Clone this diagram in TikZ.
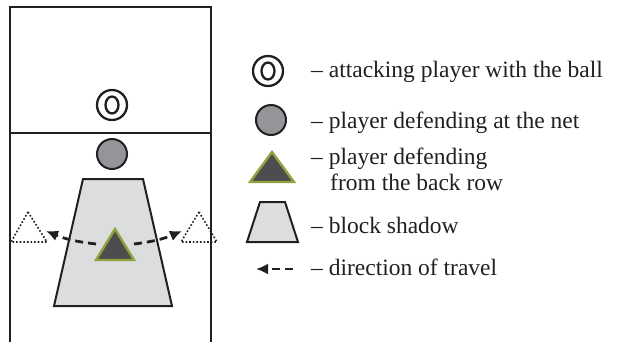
\documentclass[tikz,border=0pt]{standalone}
\usepackage{fontspec}
\setmainfont{Liberation Serif}
\usetikzlibrary{arrows.meta}
\definecolor{ink}{HTML}{231F20}
\definecolor{netgray}{HTML}{939598}
\definecolor{shadow}{HTML}{DCDDDF}
\definecolor{backgray}{HTML}{4D4D4F}
\definecolor{olive}{HTML}{8FA33F}
\tikzset{
  x=1pt, y=-1pt,
  courtline/.style={draw=ink, line width=1.6pt},
  ringout/.style={draw=ink, line width=2.3pt},
  netplayer/.style={draw=ink, fill=netgray, line width=2pt},
  blockshadow/.style={draw=ink, fill=shadow, line width=2pt, line join=miter},
  backplayer/.style={draw=olive, fill=backgray, line width=2.4pt, line join=miter},
  ghost/.style={draw=ink, dotted, line width=1.6pt},
  travel/.style={draw=ink, line width=2.8pt, dash pattern=on 8pt off 5pt, -{Latex[length=12pt,width=11pt]}},
  legtext/.style={anchor=base west, inner sep=0pt, text=ink, font=\fontsize{23.5}{26}\selectfont}
}
\begin{document}
\begin{tikzpicture}
\useasboundingbox (0,0) rectangle (619,341);
% court
\draw[courtline] (10,343) -- (10,7) -- (211,7) -- (211,343);
\draw[courtline] (10,133) -- (211,133);
% attacking player
\draw[ringout] (112,105) circle[radius=15];
\draw[ringout] (112,105) ellipse[x radius=6.5, y radius=8.5];
% net defender
\draw[netplayer] (112,154) circle[radius=15];
% block shadow
\draw[blockshadow] (83,179) -- (143,179) -- (172,306) -- (54,306) -- cycle;
% ghosts
\draw[ghost] (28,212) -- (47,242) -- (11,242) -- cycle;
\draw[ghost] (199,212) -- (217,242) -- (181,242) -- cycle;
% back player
\draw[backplayer] (115,229) -- (134,260) -- (96,260) -- cycle;
% travel arrows
\coordinate (lstart) at (96,244);
\coordinate (lend) at (46,231);
\coordinate (rstart) at (134,244);
\coordinate (rend) at (182,231);
\draw[travel] (lstart) to[bend left=8] (lend);
\draw[travel] (rstart) to[bend right=8] (rend);
% legend symbols
\draw[ringout] (268,71) circle[radius=15];
\draw[ringout] (268,71) ellipse[x radius=6.5, y radius=8.5];
\draw[netplayer] (271,120) circle[radius=15];
\draw[backplayer] (272,152) -- (294,182) -- (250,182) -- cycle;
\draw[blockshadow] (260,202) -- (285,202) -- (298,242) -- (247,242) -- cycle;
\coordinate (la) at (293,269);
\coordinate (lb) at (256,269);
\draw[travel] (la) -- (lb);
% legend texts
\node[legtext] (t1) at (311,77) {– attacking player with the ball};
\node[legtext] (t2) at (311,128) {– player defending at the net};
\node[legtext] (t3) at (311,164) {– player defending};
\node[legtext] (t4) at (330,190) {from the back row};
\node[legtext] (t5) at (311,233) {– block shadow};
\node[legtext] (t6) at (311,275) {– direction of travel};
\end{tikzpicture}
\end{document}
